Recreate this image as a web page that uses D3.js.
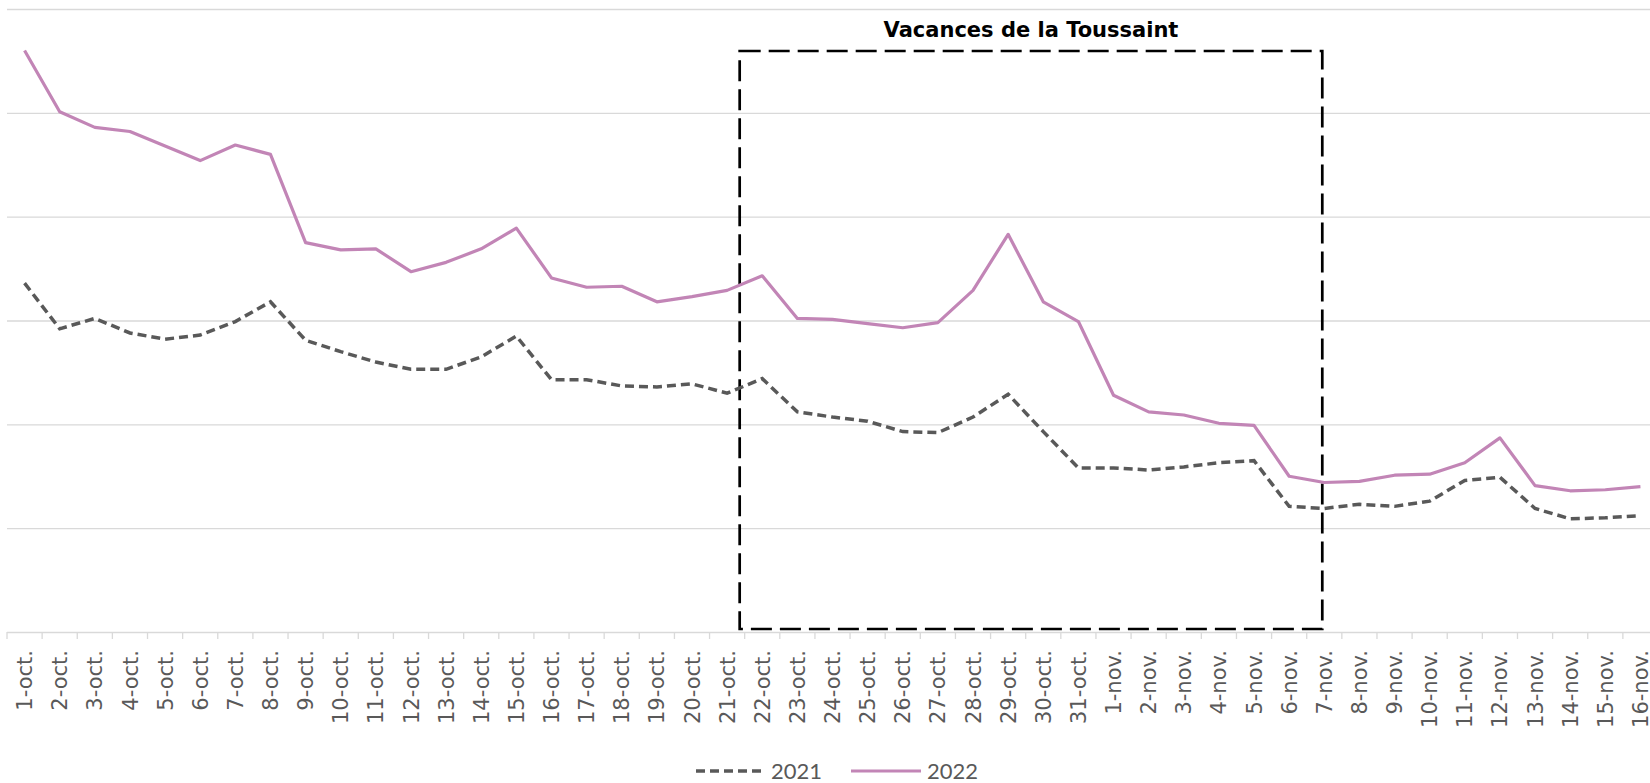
<!DOCTYPE html>
<html>
<head>
<meta charset="utf-8">
<script src="https://cdn.jsdelivr.net/npm/d3@7"></script>
<style>
  body { margin: 0; background: #fff; }
  .grid line { stroke: #d9d9d9; stroke-width: 1.3; }
  .grid path { display: none; }
  .xaxis path { display: none; }
  .xaxis line { stroke: #d9d9d9; stroke-width: 1.3; }
  .xaxis text { fill: #595959; font-family: "DejaVu Sans", sans-serif; font-size: 21px; }
  .legend text { fill: #595959; font-family: "Lato", "DejaVu Sans", sans-serif; font-size: 22px; }
</style>
</head>
<body>
<div id="chart"></div>
<script>
// Categories (days)
var octDays = d3.range(1, 32).map(function (d) { return d + "-oct."; });
var novDays = d3.range(1, 17).map(function (d) { return d + "-nov."; });
var days = octDays.concat(novDays);

// Series values (arbitrary units, no y labels shown)
var values2021 = [33.6, 29.2, 30.2, 28.8, 28.2, 28.6, 29.9, 31.8, 28.1, 27.0,
    26.0, 25.3, 25.3, 26.5, 28.5, 24.3, 24.3, 23.7, 23.6, 23.9,
    23.0, 24.4, 21.2, 20.7, 20.3, 19.3, 19.2, 20.7, 22.9, 19.3,
    15.8, 15.8, 15.6, 15.9, 16.3, 16.5, 12.1, 11.9, 12.3, 12.1,
    12.6, 14.6, 14.9, 11.9, 10.9, 11.0, 11.2];
var values2022 = [56.0, 50.1, 48.6, 48.2, 46.8, 45.4, 46.9, 46.0, 37.5, 36.8,
    36.9, 34.7, 35.6, 36.9, 38.9, 34.1, 33.2, 33.3, 31.8, 32.3,
    32.9, 34.3, 30.2, 30.1, 29.7, 29.3, 29.8, 32.9, 38.3, 31.8,
    29.9, 22.8, 21.2, 20.9, 20.1, 19.9, 15.0, 14.4, 14.5, 15.1,
    15.2, 16.3, 18.7, 14.1, 13.6, 13.7, 14.0];
var yTicks = [0, 10, 20, 30, 40, 50, 60];
var holidayStart = "22-oct.", holidayEnd = "7-nov.";
var holidayLabel = "Vacances de la Toussaint";

var W = 1650, H = 783;
var svg = d3.select("#chart").append("svg")
    .attr("width", W)
    .attr("height", H);

var x = d3.scaleBand()
    .domain(days)
    .range([7, 1658])
    .padding(0);
var bw = x.bandwidth();
var y = d3.scaleLinear()
    .domain([0, 60])
    .range([632, 9]);

// gridlines
svg.append("g")
    .attr("class", "grid")
    .attr("transform", "translate(7,0)")
    .call(d3.axisLeft(y).tickValues(yTicks).tickSize(-(1658 - 7)).tickFormat(""));

// x axis with ticks at band boundaries
var xg = svg.append("g")
    .attr("class", "xaxis")
    .attr("transform", "translate(0,632)")
    .call(d3.axisBottom(x).tickSize(7).tickPadding(0));
xg.selectAll(".tick line")
    .attr("x1", -bw / 2)
    .attr("x2", -bw / 2);
xg.selectAll(".tick text")
    .attr("transform", "rotate(-90)")
    .attr("x", -18)
    .attr("y", 0)
    .attr("dy", "0.36em")
    .style("text-anchor", "end");

// holiday box
var boxLeft = x(holidayStart) - 5;
var boxRight = x(holidayEnd) + bw / 2 - 2;
var boxTop = 51, boxBottom = 629;
svg.append("rect")
    .attr("x", boxLeft)
    .attr("y", boxTop)
    .attr("width", boxRight - boxLeft)
    .attr("height", boxBottom - boxTop)
    .attr("fill", "none")
    .attr("stroke", "#000")
    .attr("stroke-width", 2.7)
    .attr("stroke-dasharray", "21,8");
svg.append("text")
    .attr("x", (boxLeft + boxRight) / 2)
    .attr("y", 37)
    .attr("text-anchor", "middle")
    .style("font-family", "'DejaVu Sans', sans-serif")
    .style("font-weight", "bold")
    .style("font-size", "21px")
    .style("fill", "#000")
    .text(holidayLabel);

var line = d3.line()
    .x(function (d, i) { return x(days[i]) + bw / 2; })
    .y(function (d) { return y(d); });

svg.append("path")
    .datum(values2021)
    .attr("d", line)
    .attr("fill", "none")
    .attr("stroke", "#595959")
    .attr("stroke-width", 3.5)
    .attr("stroke-dasharray", "9,5");

svg.append("path")
    .datum(values2022)
    .attr("d", line)
    .attr("fill", "none")
    .attr("stroke", "#c285b6")
    .attr("stroke-width", 3.2)
    .attr("stroke-linejoin", "round");

// legend
var legend = svg.append("g").attr("class", "legend");
legend.append("line")
    .attr("x1", 696).attr("x2", 765)
    .attr("y1", 771).attr("y2", 771)
    .attr("stroke", "#595959")
    .attr("stroke-width", 3.5)
    .attr("stroke-dasharray", "9,5");
legend.append("text")
    .attr("x", 771).attr("y", 779)
    .text("2021");
legend.append("line")
    .attr("x1", 851).attr("x2", 921)
    .attr("y1", 771).attr("y2", 771)
    .attr("stroke", "#c285b6")
    .attr("stroke-width", 3.2);
legend.append("text")
    .attr("x", 927).attr("y", 779)
    .text("2022");
</script>
</body>
</html>
